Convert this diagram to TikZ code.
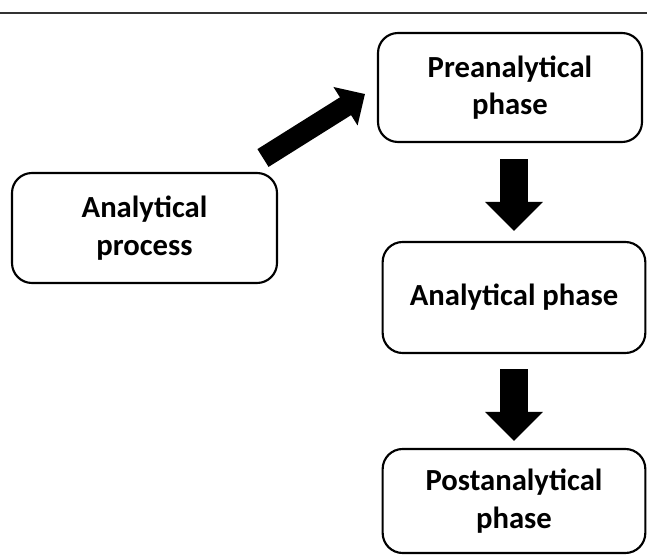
\documentclass[tikz,border=0pt]{standalone}
\usepackage{fontspec}
\setmainfont{Carlito}
\usetikzlibrary{arrows.meta}
\tikzset{
  phase/.style={draw, line width=1.6pt, rounded corners=15pt, align=center,
    inner sep=0pt, minimum width=197pt,
    font=\fontsize{23}{28}\selectfont\bfseries},
  fat/.style={line width=21pt, -{Triangle[width=42pt,length=21.75pt]}},
  slim/.style={line width=15.75pt, -{Triangle[width=33pt,length=17.25pt]}}
}
\begin{document}
\begin{tikzpicture}[x=0.75pt, y=-0.75pt]
  \useasboundingbox (0,0) rectangle (647,556);
  \draw[line width=1.5pt, black!80] (0,13) -- (647,13);

  \node[phase, minimum width=198.75pt, minimum height=82.5pt] (proc) at (144.5,228) {Analytical\\process};
  \node[phase, minimum width=198pt, minimum height=81.75pt] (pre) at (510,87.5) {Preanalytical\\phase};
  \node[phase, minimum height=83.25pt] (ana) at (514,297.5) {Analytical phase};
  \node[phase, minimum height=78pt] (post) at (514,501) {Postanalytical\\phase};

  \coordinate (tail) at (263,158);
  \coordinate (tip) at (365,94);
  \draw[slim] (tail) -- (tip);
  \draw[fat, shorten <=12pt, shorten >=7.5pt] (pre.south -| ana.north) -- (ana.north);
  \draw[fat, shorten <=11.25pt, shorten >=5.25pt] (ana.south) -- (post.north);
\end{tikzpicture}
\end{document}
